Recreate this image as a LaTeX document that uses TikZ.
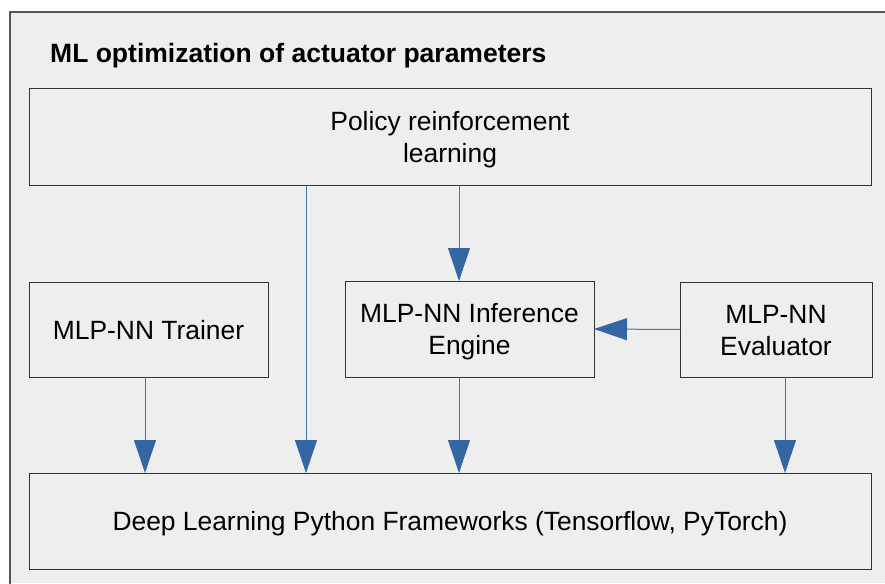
\documentclass[tikz,border=0pt]{standalone}
\usepackage{fontspec}
\setmainfont{Liberation Sans}
\usetikzlibrary{arrows.meta}
\definecolor{panel}{HTML}{EEEEEE}
\definecolor{frameline}{HTML}{555555}
\definecolor{boxline}{HTML}{333333}
\definecolor{flow}{HTML}{3465A4}
% uniform line strut so every text line sits at the same height in its box
\newcommand{\lnstrut}{\rule[-5pt]{0pt}{29pt}}
\tikzset{
  box/.style={draw=boxline, line width=1pt, fill=panel, anchor=north west,
    inner sep=0pt, outer sep=0pt, align=center,
    font=\fontsize{26.4}{32}\selectfont},
  flowarrow/.style={draw=flow!90, line width=1pt,
    -{Triangle[length=33pt, width=22pt, color=flow]}},
}
\begin{document}
\begin{tikzpicture}[x=1pt, y=-1pt]
\useasboundingbox (0,0) rectangle (885,583);
% panel background with its top and left frame edges
\fill[white] (0,0) rectangle (885,583);
\fill[panel] (10,12) rectangle (885,583);
\draw[frameline, line width=1.5pt] (10,590) -- (10,12) -- (890,12);

\node[anchor=base west, font=\bfseries\fontsize{26.5}{30}\selectfont, inner sep=0pt]
  (title) at (50,62.5) {ML optimization of actuator parameters};

\node[box, minimum width=842pt, minimum height=96pt] (policy) at (29,89)
  {\lnstrut Policy reinforcement\\\lnstrut learning};
\node[box, minimum width=239pt, minimum height=95pt] (trainer) at (29,282)
  {\lnstrut MLP-NN Trainer};
\node[box, minimum width=249pt, minimum height=96pt] (infer) at (345,281)
  {\lnstrut MLP-NN Inference\\\lnstrut Engine};
\node[box, minimum width=192pt, minimum height=95pt] (eval) at (680,282)
  {\lnstrut MLP-NN\\\lnstrut Evaluator};
\node[box, minimum width=842pt, minimum height=96pt] (dl) at (29,473)
  {\lnstrut Deep Learning Python Frameworks (Tensorflow, PyTorch)};

% columns of the vertical connectors
\coordinate (colA) at (145,0);
\coordinate (colB) at (306,0);
\coordinate (colC) at (459,0);
\coordinate (colD) at (785,0);

\draw[flowarrow] (policy.south -| colB) -- (dl.north -| colB);
\draw[flowarrow] (policy.south -| colC) -- (infer.north -| colC);
\draw[flowarrow] (eval.west) -- (infer.east);
\draw[flowarrow] (trainer.south -| colA) -- (dl.north -| colA);
\draw[flowarrow] (infer.south -| colC) -- (dl.north -| colC);
\draw[flowarrow] (eval.south -| colD) -- (dl.north -| colD);
\end{tikzpicture}
\end{document}
